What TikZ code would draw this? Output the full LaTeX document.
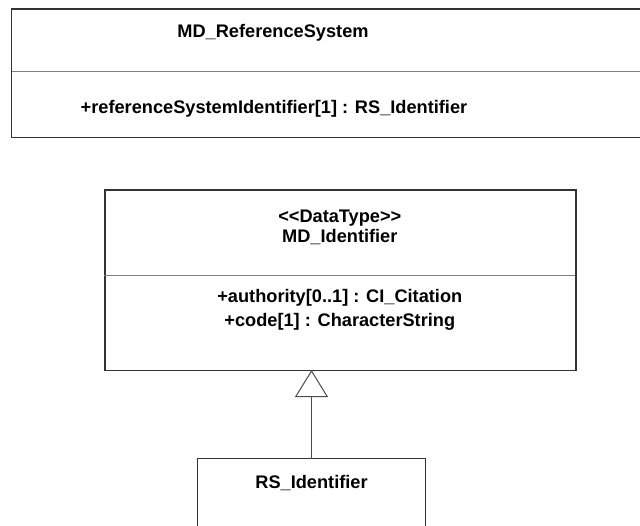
\documentclass[tikz,border=0pt]{standalone}
\usepackage{fontspec}
\setmainfont{Liberation Sans}
\usetikzlibrary{arrows.meta}
\definecolor{edge}{HTML}{333333}
\definecolor{divline}{HTML}{808080}
\tikzset{
  boxline/.style={draw=edge, line width=1.2pt},
  divider/.style={draw=divline, line width=1.2pt},
  lbl/.style={font=\bfseries\fontsize{18.2}{20}\selectfont, anchor=base, inner sep=0pt},
  gen/.style={line width=1pt, -{Triangle[open, length=27pt, width=33pt, line width=1pt]}, draw=black!70}
}
\begin{document}
\begin{tikzpicture}[x=1pt, y=-1pt]
\useasboundingbox (0,0) rectangle (640,525);
% MD_ReferenceSystem (cut off at the right edge)
\draw[boxline] (645,9) -- (11.7,9) -- (11.7,137.3) -- (645,137.3);
\draw[divider] (11.7,71.7) -- (645,71.7);
\node[lbl] (rstitle) at (273,37.5) {MD\_ReferenceSystem};
\node[lbl] (rsattr) at (274,113.5) {+referenceSystemIdentifier[1] : RS\_Identifier};
% MD_Identifier
\node[boxline, minimum width=471pt, minimum height=180.7pt, inner sep=0pt, anchor=north west] (mdid) at (104.3,189.3) {};
\draw[divider] (104.3,275.7) -- (575.3,275.7);
\node[lbl] (stereo) at (339.8,222) {<{}<DataType>{}>};
\node[lbl] (mdname) at (339.8,242) {MD\_Identifier};
\node[lbl] (attr1) at (339.8,302) {+authority[0..1] : CI\_Citation};
\node[lbl] (attr2) at (339.8,326) {+code[1] : CharacterString};
% RS_Identifier (cut off at the bottom)
\draw[boxline] (197.3,530) -- (197.3,458.7) -- (425.7,458.7) -- (425.7,530);
\coordinate (rstop) at (311.5,458.7);
\coordinate (mdbot) at (311.5,370);
\node[lbl] (rsid) at (311.5,488) {RS\_Identifier};
\draw[gen] (rstop) -- (mdbot);
\end{tikzpicture}
\end{document}
